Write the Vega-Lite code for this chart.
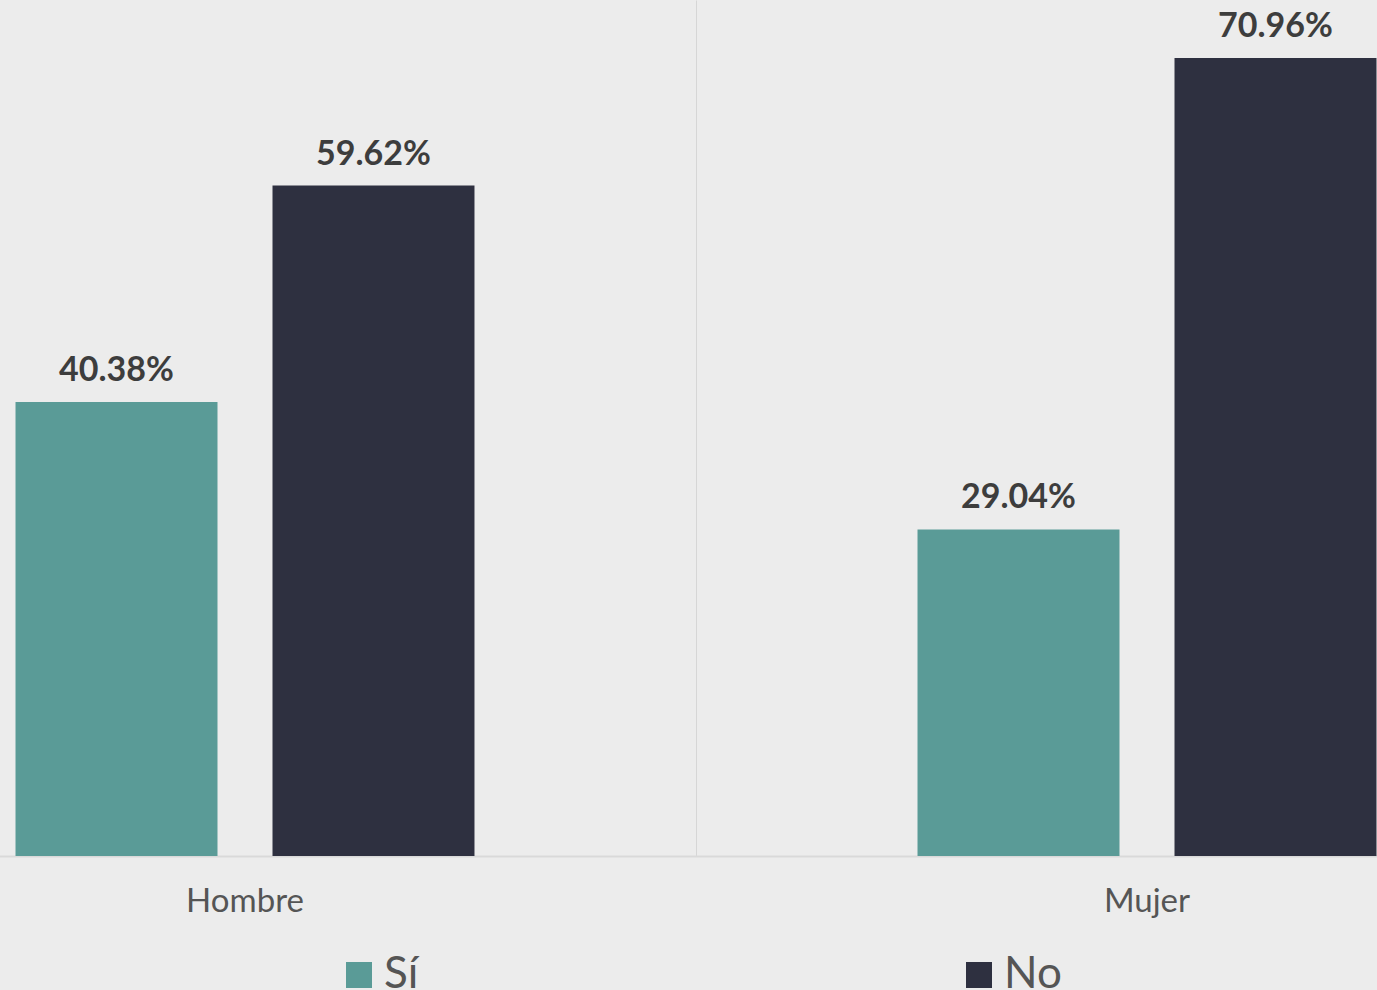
{
  "$schema": "https://vega.github.io/schema/vega-lite/v6.json",
  "autosize": "none",
  "padding": {"top": 0, "left": 0, "right": 0, "bottom": 134},
  "width": 1377,
  "height": 856,
  "background": "#ececec",
  "config": {
    "view": {"stroke": null},
    "font": "Lato"
  },
  "data": {
    "values": [
      {"sexo": "Hombre", "respuesta": "Sí", "pct": 0.4038},
      {"sexo": "Hombre", "respuesta": "No", "pct": 0.5962},
      {"sexo": "Mujer", "respuesta": "Sí", "pct": 0.2904},
      {"sexo": "Mujer", "respuesta": "No", "pct": 0.7096}
    ]
  },
  "encoding": {
    "x": {
      "field": "sexo",
      "type": "nominal",
      "sort": ["Hombre", "Mujer"],
      "scale": {"range": [-206, 1598], "paddingInner": 0, "paddingOuter": 0},
      "axis": {
        "title": null,
        "labelAngle": 0,
        "labelFont": "Lato",
        "labelFontSize": 33,
        "labelColor": "#555555",
        "labelPadding": 29,
        "ticks": false,
        "domainColor": "#d9d9d9",
        "domainWidth": 2,
        "grid": true,
        "bandPosition": 0,
        "gridColor": "#d6d6d6",
        "gridWidth": 1
      }
    },
    "xOffset": {
      "field": "respuesta",
      "type": "nominal",
      "sort": ["Sí", "No"],
      "scale": {"paddingInner": 0.214, "paddingOuter": 0.862}
    },
    "y": {
      "field": "pct",
      "type": "quantitative",
      "scale": {"domain": [0, 0.7612], "nice": false},
      "axis": null
    }
  },
  "layer": [
    {
      "mark": {"type": "bar"},
      "encoding": {
        "color": {
          "field": "respuesta",
          "type": "nominal",
          "sort": ["Sí", "No"],
          "scale": {"domain": ["Sí", "No"], "range": ["#5a9b97", "#2e3040"]},
          "legend": {
            "title": null,
            "orient": "none",
            "direction": "horizontal",
            "legendX": 337,
            "legendY": 953,
            "padding": 0,
            "symbolType": "square",
            "symbolSize": 676,
            "symbolStrokeWidth": 0,
            "labelFont": "Lato",
            "labelFontSize": 44,
            "labelColor": "#555555",
            "labelOffset": 3,
            "columnPadding": 538
          }
        }
      }
    },
    {
      "mark": {
        "type": "text",
        "baseline": "alphabetic",
        "dy": -21,
        "font": "Lato",
        "fontWeight": "bold",
        "fontSize": 34,
        "color": "#3d3d3d"
      },
      "encoding": {
        "text": {"field": "pct", "type": "quantitative", "format": ".2%"}
      }
    }
  ]
}
